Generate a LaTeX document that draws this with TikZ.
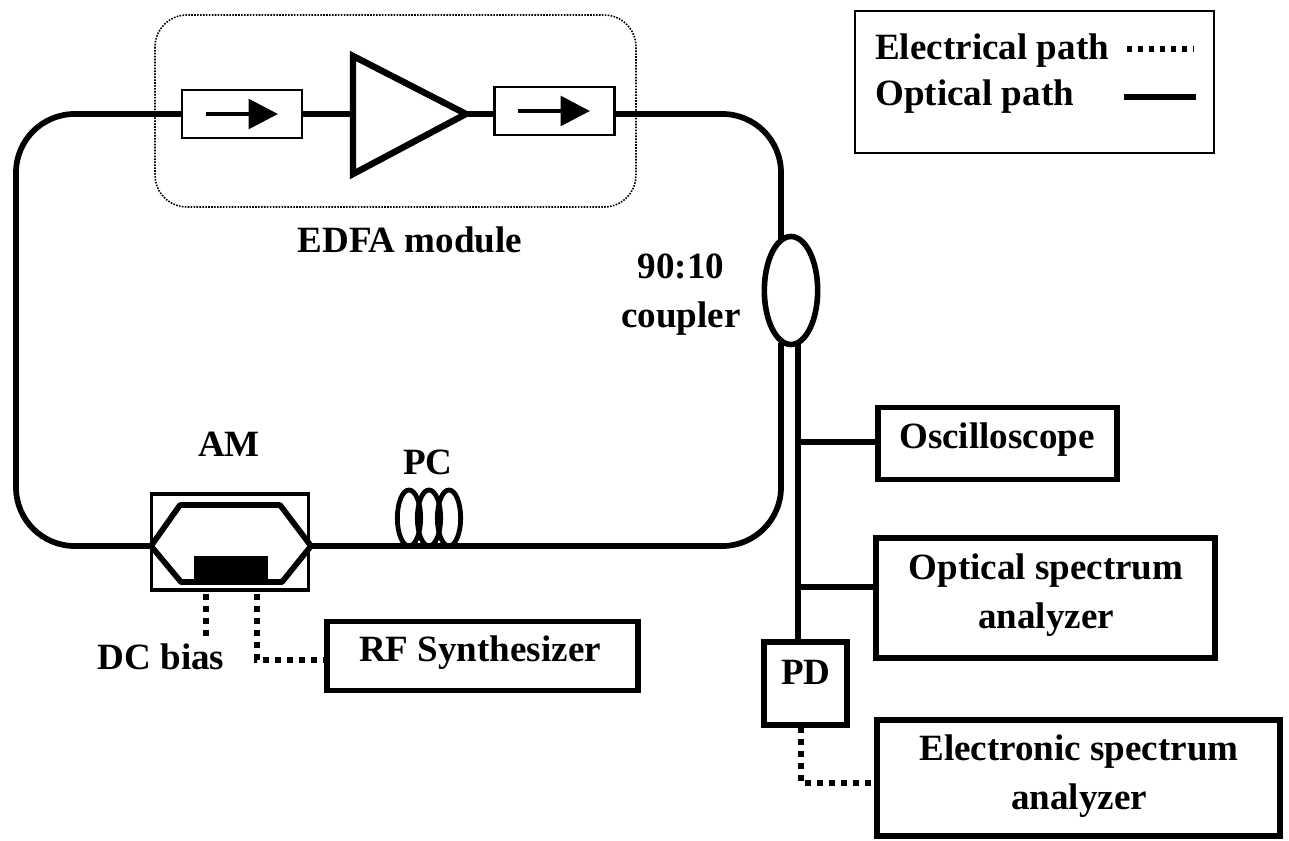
\documentclass[tikz,border=0pt]{standalone}
\usepackage{fontspec}
\setmainfont{Liberation Serif}
\usetikzlibrary{shapes.geometric, arrows.meta}
\tikzset{
    optical/.style={line width=4.3pt, black},
    electrical/.style={line width=4.5pt, black, dash pattern=on 4.5pt off 4.5pt},
    instrument/.style={draw, line width=4.2pt, inner sep=0pt},
    isolator/.style={draw, line width=1.6pt, fill=white, minimum width=90pt, minimum height=36pt, inner sep=0pt},
    coil/.style={draw, ellipse, line width=3.6pt, minimum width=17.5pt, minimum height=42pt, inner sep=0pt},
    caption/.style={inner sep=0pt, align=center, font=\fontsize{27.8}{36.8}\selectfont\bfseries},
    isoarrow/.style={line width=3.4pt, -{Triangle[length=22pt, width=22pt]}}
}
\begin{document}
\begin{tikzpicture}[x=0.75pt, y=-0.75pt]
    % Area of the page
    \useasboundingbox (0,0) rectangle (1289,841);

    % EDFA module
    \draw[densely dotted, line width=1.2pt, rounded corners=24pt] (155,15) rectangle (636,207);
    \node[isolator] (isoa) at (242,114) {};
    \node[isolator] (isob) at (554.5,111) {};
    \coordinate (edfain) at (353,114);
    \coordinate (edfaout) at (466,114);
    \draw[isoarrow] (206,114) -- (278,114);
    \draw[isoarrow] (518,111) -- (590,111);
    \draw[line width=4.8pt] (353,56) -- (edfaout) -- (353,174) -- cycle;

    % Modulator
    \node[draw, line width=2.6pt, minimum width=118pt, minimum height=72pt, inner sep=0pt] (am) at (230,542) {};
    \coordinate (amin) at (151,546);
    \coordinate (amout) at (311,546);
    \fill (194,556) rectangle (268,582);
    \draw[optical, line join=round] (amin) -- (180,505) -- (280,505) -- (amout) -- (282,582) -- (181,582) -- cycle;

    % Fibre loop
    \coordinate (cplin) at (781,240);
    \coordinate (cplout) at (781,343);
    \draw[optical] (isoa.east) -- (edfain);
    \draw[optical] (edfaout) -- (isob.west |- edfaout);
    \draw[optical, rounded corners=44pt] (isoa.west) -- (16,114) -- (16,546) -- (amin);
    \draw[optical, rounded corners=44pt] (amout) -- (781,546) -- (cplout);
    \draw[optical, rounded corners=44pt] (isob.east |- edfaout) -- (781,114) -- (cplin);

    % Polarization controller
    \node[coil] (pca) at (409,518) {};
    \node[coil] (pcb) at (429,518) {};
    \node[coil] (pcc) at (449,518) {};

    % Coupler
    \node[draw, ellipse, line width=4.2pt, minimum width=40pt, minimum height=81pt, inner sep=0pt] (coupler) at (791,290.5) {};

    % Instruments
    \node[instrument, minimum width=179pt, minimum height=54pt] (scope) at (997.5,443.5) {};
    \node[caption] (scopetext) at (997,440) {Oscilloscope};
    \node[instrument, minimum width=254pt, minimum height=90pt] (osa) at (1045.5,598) {};
    \node[caption] (osatext) at (1046,595) {Optical spectrum\\analyzer};
    \node[instrument, minimum width=302pt, minimum height=87pt] (esa) at (1078.5,778) {};
    \node[caption] (esatext) at (1079,776) {Electronic spectrum\\analyzer};
    \node[instrument, minimum width=62pt, minimum height=62pt] (pd) at (805.5,683.5) {};
    \node[caption] (pdtext) at (806,672) {PD};
    \node[instrument, minimum width=233pt, minimum height=52pt] (rf) at (482.5,656) {};
    \node[caption] (rftext) at (480,653) {RF Synthesizer};

    % Output arm
    \coordinate (tapout) at (798,343);
    \draw[optical] (tapout) -- (tapout |- pd.north);
    \draw[optical] (798,442) -- (scope.west |- 798,442);
    \draw[optical] (798,587) -- (osa.west |- 798,587);

    % Electrical lines
    \coordinate (dcend) at (206,636);
    \draw[electrical] (206,594) -- (dcend);
    \draw[electrical] (257,594) -- (257,660) -- (rf.west |- 257,660);
    \draw[electrical] (801,727) -- (801,783) -- (esa.west |- 801,783);

    % Labels
    \node[caption] (edfatext) at (410,240) {EDFA module};
    \node[caption] (cpltext) at (681,295) {90:10\\coupler};
    \node[caption] (amtext) at (229,444) {AM};
    \node[caption] (pctext) at (428,462) {PC};
    \node[caption] (dctext) at (161,657) {DC bias};

    % Legend
    \node[draw, line width=1.8pt, minimum width=269pt, minimum height=106.5pt, inner sep=0pt] (legend) at (1034.5,82) {};
    \node[caption, anchor=west] (elecname) at (875,51) {Electrical path};
    \node[caption, anchor=west] (optname) at (875,97) {Optical path};
    \coordinate (elecstart) at (1127,49);
    \coordinate (elecend) at (1194,49);
    \coordinate (optstart) at (1124,97);
    \coordinate (optend) at (1196,97);
    \draw[electrical, line width=3.9pt, dash pattern=on 4pt off 4.2pt] (elecstart) -- (elecend);
    \draw[optical] (optstart) -- (optend);
\end{tikzpicture}
\end{document}
